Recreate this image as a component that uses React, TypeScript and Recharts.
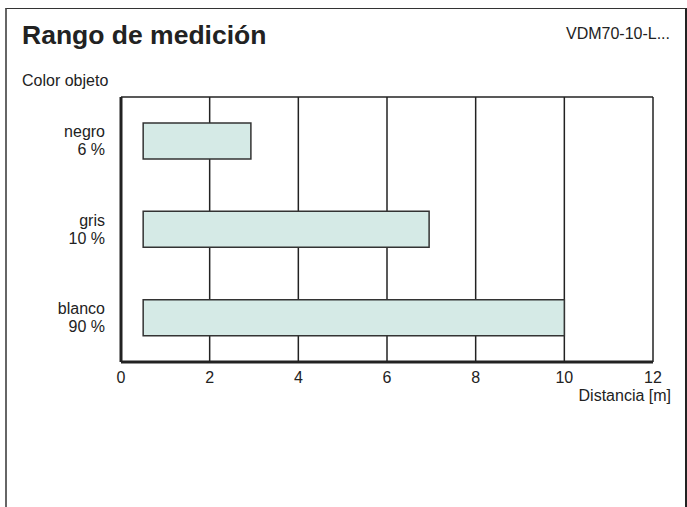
import { BarChart, Bar, XAxis, YAxis, CartesianGrid } from "recharts";

const categories = ["negro", "gris", "blanco"];
const reflectance = ["6 %", "10 %", "90 %"];
const rangeStart = [0.5, 0.5, 0.5];
const rangeEnd = [2.93, 6.95, 10];
const xTicks = [0, 2, 4, 6, 8, 10, 12];

const data = categories.map((name, i) => ({
    name,
    pct: reflectance[i],
    range: [rangeStart[i], rangeEnd[i]],
}));

const font = "'Liberation Sans', Arial, Helvetica, sans-serif";

const CategoryTick = (props: any) => {
    const { x, y, payload } = props;
    const row = data.find((d) => d.name === payload.value);
    return (
        <g>
            <text x={x} y={y - 4} textAnchor="end" fontSize={16} fill="#222" fontFamily={font}>
                {payload.value}
            </text>
            <text x={x} y={y + 14} textAnchor="end" fontSize={16} fill="#222" fontFamily={font}>
                {row ? row.pct : ""}
            </text>
        </g>
    );
};

const App = () => {
    return (
        <div
            style={{
                position: "absolute",
                left: 0,
                top: 0,
                width: 687,
                height: 507,
                background: "#fff",
                fontFamily: font,
                color: "#222",
                overflow: "hidden",
            }}
        >
            <div
                style={{
                    position: "absolute",
                    left: 5,
                    top: 8,
                    width: 678,
                    height: 520,
                    borderTop: "1.5px solid #333",
                    borderLeft: "2px solid #666",
                    borderRight: "2px solid #222",
                }}
            />
            <div style={{ position: "absolute", left: 22, top: 20, fontSize: 26.5, fontWeight: "bold" }}>
                Rango de medición
            </div>
            <div style={{ position: "absolute", right: 17, top: 25, fontSize: 16 }}>VDM70-10-L...</div>
            <div style={{ position: "absolute", left: 22, top: 72, fontSize: 16 }}>Color objeto</div>
            <div style={{ position: "absolute", right: 16, top: 387, fontSize: 16 }}>Distancia [m]</div>
            <div style={{ position: "absolute", left: 0, top: 0 }}>
                <BarChart
                    width={687}
                    height={507}
                    data={data}
                    layout="vertical"
                    margin={{ top: 97, right: 34, bottom: 115, left: 11 }}
                >
                    <CartesianGrid
                        stroke="#222"
                        strokeWidth={1.5}
                        horizontalCoordinatesGenerator={({ offset }: any) => [offset.top]}
                    />
                    <XAxis
                        type="number"
                        domain={[0, 12]}
                        ticks={xTicks}
                        interval={0}
                        tickLine={false}
                        tickMargin={4}
                        axisLine={{ stroke: "#222", strokeWidth: 3 }}
                        tick={{ fontSize: 16, fill: "#222", fontFamily: font }}
                        height={30}
                    />
                    <YAxis
                        type="category"
                        dataKey="name"
                        width={110}
                        tickLine={false}
                        tickMargin={10}
                        axisLine={{ stroke: "#222", strokeWidth: 3 }}
                        tick={<CategoryTick />}
                    />
                    <Bar
                        dataKey="range"
                        fill="#d5eae6"
                        stroke="#333"
                        strokeWidth={1.5}
                        barSize={36}
                        isAnimationActive={false}
                    />
                </BarChart>
            </div>
        </div>
    );
};

export default App;
